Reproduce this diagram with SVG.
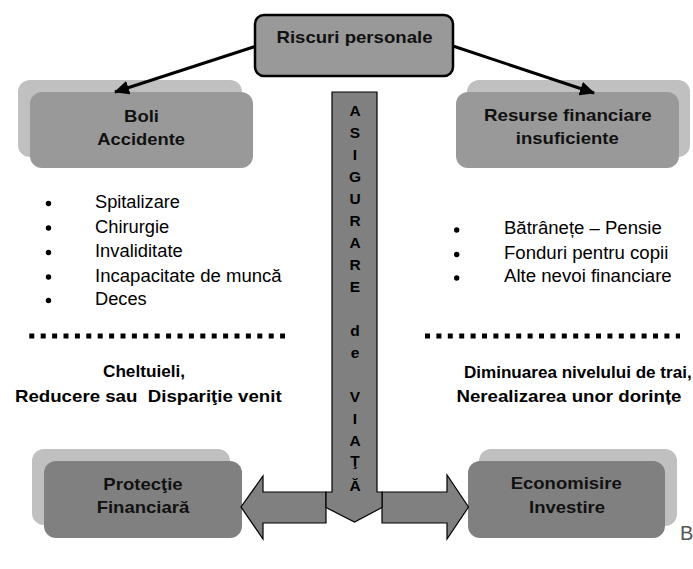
<svg xmlns="http://www.w3.org/2000/svg" width="693" height="569" viewBox="0 0 693 569">
<defs>
<style>
text{font-family:"Liberation Sans",Arial,sans-serif;fill:#000}
.b{font-weight:bold;font-size:17px;text-anchor:middle;fill:#111}
.r{font-size:17.5px}
.bt{font-weight:bold;font-size:17px;text-anchor:middle}
.v{font-weight:bold;font-size:15.5px;text-anchor:middle}
.back{fill:#c0c0c0}
.front1{fill:#999}
.front2{fill:#808080}
.dots{stroke:#000;stroke-width:5;stroke-dasharray:5 6.4;fill:none}
.conn{stroke:#000;stroke-width:3;fill:none}
.shape{fill:#808080;stroke:#000;stroke-width:1.2}
</style>
<marker id="ah" markerUnits="userSpaceOnUse" markerWidth="16" markerHeight="14" refX="14" refY="7" orient="auto">
<path d="M0,0 L15,7 L0,14 Z" fill="#000"/>
</marker>
</defs>
<rect width="693" height="569" fill="#fff"/>

<g id="riscuri">
<rect x="255" y="15" width="198" height="61" rx="9" fill="#999" stroke="#000" stroke-width="2.5"/>
<text class="b" x="354.5" y="43" textLength="156" lengthAdjust="spacingAndGlyphs">Riscuri personale</text>
</g>

<g id="boli">
<rect class="back" x="18" y="80" width="224" height="77" rx="12"/>
<rect class="front1" x="30" y="92" width="223" height="76" rx="12"/>
<text class="b" x="141.5" y="121.5" textLength="35" lengthAdjust="spacingAndGlyphs">Boli</text>
<text class="b" x="141.2" y="145" textLength="87.7" lengthAdjust="spacingAndGlyphs">Accidente</text>
</g>

<g id="resurse">
<rect class="back" x="467" y="80" width="223" height="77" rx="12"/>
<rect class="front1" x="456" y="92" width="223" height="76" rx="12"/>
<text class="b" x="567.8" y="120.7" textLength="167.7" lengthAdjust="spacingAndGlyphs">Resurse financiare</text>
<text class="b" x="567.3" y="144.3" textLength="103" lengthAdjust="spacingAndGlyphs">insuficiente</text>
</g>

<g id="lista-stanga">
<circle cx="48.5" cy="203.5" r="2.7"/>
<circle cx="48.5" cy="228" r="2.7"/>
<circle cx="48.5" cy="252.5" r="2.7"/>
<circle cx="48.5" cy="277" r="2.7"/>
<circle cx="48.5" cy="300.5" r="2.7"/>
<text class="r" x="95" y="208.3" textLength="85" lengthAdjust="spacingAndGlyphs">Spitalizare</text>
<text class="r" x="95" y="232.7" textLength="74.3" lengthAdjust="spacingAndGlyphs">Chirurgie</text>
<text class="r" x="95" y="257.3" textLength="87.7" lengthAdjust="spacingAndGlyphs">Invaliditate</text>
<text class="r" x="95" y="281.7" textLength="186.7" lengthAdjust="spacingAndGlyphs">Incapacitate de muncă</text>
<text class="r" x="95" y="305" textLength="51.7" lengthAdjust="spacingAndGlyphs">Deces</text>
</g>

<g id="lista-dreapta">
<circle cx="456.7" cy="230" r="2.7"/>
<circle cx="456.7" cy="254.5" r="2.7"/>
<circle cx="456.7" cy="278" r="2.7"/>
<text class="r" x="504" y="234.3" textLength="157.7" lengthAdjust="spacingAndGlyphs">Bătrânețe – Pensie</text>
<text class="r" x="504" y="259" textLength="164.3" lengthAdjust="spacingAndGlyphs">Fonduri pentru copii</text>
<text class="r" x="504" y="282.3" textLength="167.7" lengthAdjust="spacingAndGlyphs">Alte nevoi financiare</text>
</g>

<g id="separatoare">
<line class="dots" x1="29.3" y1="336" x2="285" y2="336"/>
<line class="dots" x1="425" y1="336" x2="680" y2="336"/>
</g>

<g id="efecte-stanga">
<text class="bt" x="144" y="377" textLength="82" lengthAdjust="spacingAndGlyphs">Cheltuieli,</text>
<text class="bt" x="148.3" y="401.7" textLength="266.7" lengthAdjust="spacingAndGlyphs" xml:space="preserve">Reducere sau  Dispariţie venit</text>
</g>

<g id="efecte-dreapta">
<text class="bt" x="577.8" y="378" textLength="227.7" lengthAdjust="spacingAndGlyphs">Diminuarea nivelului de trai,</text>
<text class="bt" x="569" y="401.7" textLength="225" lengthAdjust="spacingAndGlyphs">Nerealizarea unor dorințe</text>
</g>

<g id="protectie">
<rect class="back" x="32" y="449" width="198" height="76" rx="12"/>
<rect class="front2" x="44" y="461" width="198" height="77" rx="12"/>
<text class="b" x="143" y="490" textLength="79.3" lengthAdjust="spacingAndGlyphs">Protecţie</text>
<text class="b" x="143" y="513.3" textLength="92.7" lengthAdjust="spacingAndGlyphs">Financiară</text>
</g>

<g id="economisire">
<rect class="back" x="479" y="449" width="198" height="77" rx="12"/>
<rect class="front2" x="468" y="461" width="197" height="77" rx="12"/>
<text class="b" x="566.2" y="489.3" textLength="111" lengthAdjust="spacingAndGlyphs">Economisire</text>
<text class="b" x="567" y="513.3" textLength="76" lengthAdjust="spacingAndGlyphs">Investire</text>
</g>

<g id="asigurare">
<polygon class="shape" points="326,492 263,492 263,476 241,507 263,539 263,523 326,523"/>
<polygon class="shape" points="382,492 447,492 447,475 468.5,507 447,539 447,523 382,523"/>
<polygon class="shape" points="332,92 377,92 377,492 382,492 382,507.5 354.5,522 326,507.5 326,492 332,492"/>
<text class="v" x="355" y="116">A</text>
<text class="v" x="355" y="138">S</text>
<text class="v" x="355" y="160">I</text>
<text class="v" x="355" y="182">G</text>
<text class="v" x="355" y="204">U</text>
<text class="v" x="355" y="226">R</text>
<text class="v" x="355" y="248">A</text>
<text class="v" x="355" y="270">R</text>
<text class="v" x="355" y="292">E</text>
<text class="v" x="355" y="336">d</text>
<text class="v" x="355" y="358">e</text>
<text class="v" x="355" y="402">V</text>
<text class="v" x="355" y="424">I</text>
<text class="v" x="355" y="446">A</text>
<text class="v" x="355" y="466">Ţ</text>
<text class="v" x="355" y="491">Ă</text>
</g>

<g id="connectors">
<line class="conn" x1="255" y1="46.5" x2="115" y2="92" marker-end="url(#ah)"/>
<line class="conn" x1="453" y1="46" x2="594" y2="93" marker-end="url(#ah)"/>
</g>

<text x="680" y="540" font-size="20" style="fill:#555">B</text>
</svg>
